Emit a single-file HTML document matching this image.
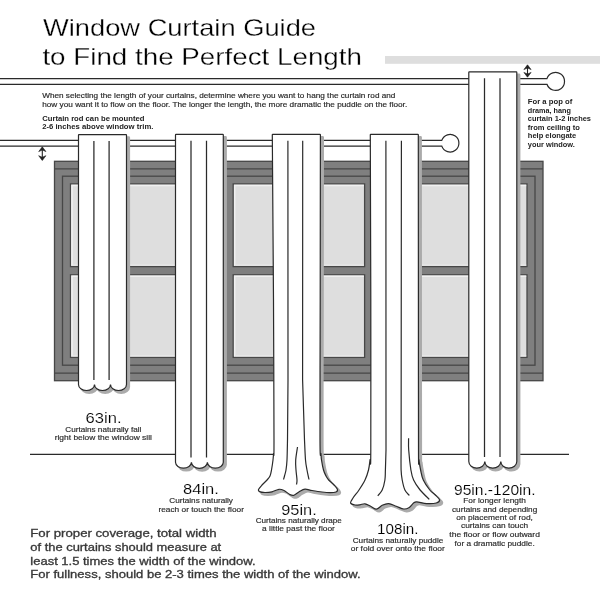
<!DOCTYPE html><html><head><meta charset="utf-8"><style>
html,body{margin:0;padding:0;background:#fff;width:600px;height:600px;overflow:hidden}
svg{display:block;will-change:transform}text{font-family:"Liberation Sans",sans-serif}
</style></head><body>
<svg width="600" height="600" viewBox="0 0 600 600">
<text x="43.0" y="35.7" font-size="23.4" font-weight="normal" fill="#000" text-anchor="start" textLength="273.0" lengthAdjust="spacingAndGlyphs" stroke="#fff" stroke-width="0.28">Window Curtain Guide</text>
<text x="42.4" y="64.7" font-size="23.4" font-weight="normal" fill="#000" text-anchor="start" textLength="319.6" lengthAdjust="spacingAndGlyphs" stroke="#fff" stroke-width="0.28">to Find the Perfect Length</text>
<rect x="385" y="56" width="215" height="7.8" fill="#dedede"/>
<path d="M0 78.6 H546.95 A9.0 9.0 0 1 1 546.98 84.3 H0" stroke="#2a2a2a" stroke-width="1.2" fill="#fff"/>
<path d="M0 140.4 H441.76 A8.8 8.8 0 1 1 441.79 146.1 H0" stroke="#2a2a2a" stroke-width="1.2" fill="#fff"/>
<text x="42.2" y="98.2" font-size="7.3" font-weight="normal" fill="#2c2c2c" text-anchor="start" textLength="353.2" lengthAdjust="spacingAndGlyphs" stroke="#2c2c2c" stroke-width="0.18">When selecting the length of your curtains, determine where you want to hang the curtain rod and</text>
<text x="42.2" y="106.7" font-size="7.3" font-weight="normal" fill="#2c2c2c" text-anchor="start" textLength="365.0" lengthAdjust="spacingAndGlyphs" stroke="#2c2c2c" stroke-width="0.18">how you want it to flow on the floor. The longer the length, the more dramatic the puddle on the floor.</text>
<text x="42.2" y="120.5" font-size="6.9" font-weight="bold" fill="#222" text-anchor="start" textLength="102.2" lengthAdjust="spacingAndGlyphs">Curtain rod can be mounted</text>
<text x="42.2" y="128.8" font-size="6.9" font-weight="bold" fill="#222" text-anchor="start" textLength="111.2" lengthAdjust="spacingAndGlyphs">2-6 inches above window trim.</text>
<path d="M42.3 147.8 V159.5" stroke="#222" stroke-width="1.1"/>
<path d="M38.699999999999996 151.60000000000002 L42.3 146.8 L45.9 151.60000000000002 L42.3 150.0 Z" fill="#222" stroke="#222" stroke-width="0.6"/>
<path d="M38.699999999999996 155.7 L42.3 160.5 L45.9 155.7 L42.3 157.3 Z" fill="#222" stroke="#222" stroke-width="0.6"/>
<path d="M527.5 65.8 V76.2" stroke="#222" stroke-width="1.1"/>
<path d="M523.9 69.6 L527.5 64.8 L531.1 69.6 L527.5 68.0 Z" fill="#222" stroke="#222" stroke-width="0.6"/>
<path d="M523.9 72.4 L527.5 77.2 L531.1 72.4 L527.5 74.0 Z" fill="#222" stroke="#222" stroke-width="0.6"/>
<rect x="54.5" y="161.3" width="488.5" height="219.4" fill="#7f7f7f" stroke="#474747" stroke-width="1.3"/>
<path d="M54.5 168.9 H543 M54.5 373.1 H543" stroke="#474747" stroke-width="1.3"/>
<rect x="62.5" y="176.2" width="472.5" height="189" fill="#7f7f7f" stroke="#474747" stroke-width="1.3"/>
<rect x="70.5" y="183.9" width="154.10" height="82.70" fill="#dedede" stroke="#474747" stroke-width="1.3"/>
<path d="M72.0 265.8 V185.4 H223.79999999999998" stroke="#f0f0f0" stroke-width="1.5" fill="none"/>
<path d="M72.9 265.1 H223.79999999999998" stroke="#e8e8e8" stroke-width="1.2" fill="none"/>
<rect x="70.5" y="274.8" width="154.10" height="82.60" fill="#dedede" stroke="#474747" stroke-width="1.3"/>
<path d="M72.0 356.59999999999997 V276.3 H223.79999999999998" stroke="#f0f0f0" stroke-width="1.5" fill="none"/>
<path d="M72.9 355.9 H223.79999999999998" stroke="#e8e8e8" stroke-width="1.2" fill="none"/>
<rect x="233.2" y="183.9" width="131.40" height="82.70" fill="#dedede" stroke="#474747" stroke-width="1.3"/>
<path d="M234.7 265.8 V185.4 H363.8" stroke="#f0f0f0" stroke-width="1.5" fill="none"/>
<path d="M235.6 265.1 H363.8" stroke="#e8e8e8" stroke-width="1.2" fill="none"/>
<rect x="233.2" y="274.8" width="131.40" height="82.60" fill="#dedede" stroke="#474747" stroke-width="1.3"/>
<path d="M234.7 356.59999999999997 V276.3 H363.8" stroke="#f0f0f0" stroke-width="1.5" fill="none"/>
<path d="M235.6 355.9 H363.8" stroke="#e8e8e8" stroke-width="1.2" fill="none"/>
<rect x="373" y="183.9" width="154.00" height="82.70" fill="#dedede" stroke="#474747" stroke-width="1.3"/>
<path d="M374.5 265.8 V185.4 H526.2" stroke="#f0f0f0" stroke-width="1.5" fill="none"/>
<path d="M375.4 265.1 H526.2" stroke="#e8e8e8" stroke-width="1.2" fill="none"/>
<rect x="373" y="274.8" width="154.00" height="82.60" fill="#dedede" stroke="#474747" stroke-width="1.3"/>
<path d="M374.5 356.59999999999997 V276.3 H526.2" stroke="#f0f0f0" stroke-width="1.5" fill="none"/>
<path d="M375.4 355.9 H526.2" stroke="#e8e8e8" stroke-width="1.2" fill="none"/>
<path d="M30 454.3 H569" stroke="#2a2a2a" stroke-width="1.2"/>
<path d="M78.5 135.1 Q78.5 134.6 79.0 134.6 H126.0 Q126.5 134.6 126.5 135.1 V384.5 A8.0 6.0 0 0 1 110.50 384.5 A8.0 6.0 0 0 1 94.50 384.5 A8.0 6.0 0 0 1 78.5 384.5 Z" transform="translate(2.7,2.5)" fill="#ababab" stroke="#ababab" stroke-width="1.8" stroke-linejoin="round"/>
<path d="M78.5 135.1 Q78.5 134.6 79.0 134.6 H126.0 Q126.5 134.6 126.5 135.1 V384.5 A8.0 6.0 0 0 1 110.50 384.5 A8.0 6.0 0 0 1 94.50 384.5 A8.0 6.0 0 0 1 78.5 384.5 Z" fill="#fff" stroke="#2a2a2a" stroke-width="1.2"/>
<path d="M93.9 140.9 V380 M109.1 140.9 V380" stroke="#2a2a2a" stroke-width="1.25"/>
<path d="M175.5 134.9 Q175.5 134.4 176.0 134.4 H222.8 Q223.3 134.4 223.3 134.9 V462.3 A7.966666666666666 6.0 0 0 1 207.37 462.3 A7.966666666666666 6.0 0 0 1 191.43 462.3 A7.966666666666666 6.0 0 0 1 175.5 462.3 Z" transform="translate(2.7,2.5)" fill="#ababab" stroke="#ababab" stroke-width="1.8" stroke-linejoin="round"/>
<path d="M175.5 134.9 Q175.5 134.4 176.0 134.4 H222.8 Q223.3 134.4 223.3 134.9 V462.3 A7.966666666666666 6.0 0 0 1 207.37 462.3 A7.966666666666666 6.0 0 0 1 191.43 462.3 A7.966666666666666 6.0 0 0 1 175.5 462.3 Z" fill="#fff" stroke="#2a2a2a" stroke-width="1.2"/>
<path d="M191.0 140.70000000000002 V457.5 M206.5 140.70000000000002 V457.5" stroke="#2a2a2a" stroke-width="1.25"/>
<path d="M468.8 72.4 Q468.8 71.9 469.3 71.9 H516.3 Q516.8 71.9 516.8 72.4 V461.6 A8.0 6.5 0 0 1 500.80 461.6 A8.0 6.5 0 0 1 484.80 461.6 A8.0 6.5 0 0 1 468.8 461.6 Z" transform="translate(2.7,2.5)" fill="#ababab" stroke="#ababab" stroke-width="1.8" stroke-linejoin="round"/>
<path d="M468.8 72.4 Q468.8 71.9 469.3 71.9 H516.3 Q516.8 71.9 516.8 72.4 V461.6 A8.0 6.5 0 0 1 500.80 461.6 A8.0 6.5 0 0 1 484.80 461.6 A8.0 6.5 0 0 1 468.8 461.6 Z" fill="#fff" stroke="#2a2a2a" stroke-width="1.2"/>
<path d="M484.5 78.2 V457.0 M500.0 78.2 V457.0" stroke="#2a2a2a" stroke-width="1.25"/>
<path d="M272.3 134.8 Q272.3 134.3 272.8 134.3 H319.9 Q320.4 134.3 320.4 134.8 L320.2 300 C320.17 323.33 319.87 414.33 320 440 C320.13 465.67 320.75 450.67 321 454 C321.25 457.33 321.08 457.33 321.5 460 C321.92 462.67 322.75 467.33 323.5 470 C324.25 472.67 325.13 474.33 326 476 C326.87 477.67 327.37 478.50 328.7 480 C330.03 481.50 332.55 483.43 334 485 C335.45 486.57 337.07 488.23 337.4 489.4 C337.73 490.57 337.23 491.47 336 492 C334.77 492.53 332.33 492.60 330 492.6 C327.67 492.60 325.00 492.35 322 492 C319.00 491.65 314.83 490.97 312 490.5 C309.17 490.03 307.08 489.03 305 489.2 C302.92 489.37 301.33 490.50 299.5 491.5 C297.67 492.50 295.58 494.68 294 495.2 C292.42 495.72 291.67 495.38 290 494.6 C288.33 493.82 285.83 491.38 284 490.5 C282.17 489.62 281.00 489.08 279 489.3 C277.00 489.52 274.33 491.27 272 491.8 C269.67 492.33 267.08 492.53 265 492.5 C262.92 492.47 260.57 492.12 259.5 491.6 C258.43 491.08 258.18 490.50 258.6 489.4 C259.02 488.30 260.60 486.57 262 485 C263.40 483.43 265.67 481.50 267 480 C268.33 478.50 269.25 477.67 270 476 C270.75 474.33 271.00 472.67 271.5 470 C272.00 467.33 272.67 462.67 273 460 C273.33 457.33 273.33 457.33 273.5 454 C273.67 450.67 274.00 465.67 274 440 C274.00 414.33 273.58 323.33 273.5 300 Z" transform="translate(2.7,2.5)" fill="#ababab" stroke="#ababab" stroke-width="1.8" stroke-linejoin="round"/>
<path d="M272.3 134.8 Q272.3 134.3 272.8 134.3 H319.9 Q320.4 134.3 320.4 134.8 L320.2 300 C320.17 323.33 319.87 414.33 320 440 C320.13 465.67 320.75 450.67 321 454 C321.25 457.33 321.08 457.33 321.5 460 C321.92 462.67 322.75 467.33 323.5 470 C324.25 472.67 325.13 474.33 326 476 C326.87 477.67 327.37 478.50 328.7 480 C330.03 481.50 332.55 483.43 334 485 C335.45 486.57 337.07 488.23 337.4 489.4 C337.73 490.57 337.23 491.47 336 492 C334.77 492.53 332.33 492.60 330 492.6 C327.67 492.60 325.00 492.35 322 492 C319.00 491.65 314.83 490.97 312 490.5 C309.17 490.03 307.08 489.03 305 489.2 C302.92 489.37 301.33 490.50 299.5 491.5 C297.67 492.50 295.58 494.68 294 495.2 C292.42 495.72 291.67 495.38 290 494.6 C288.33 493.82 285.83 491.38 284 490.5 C282.17 489.62 281.00 489.08 279 489.3 C277.00 489.52 274.33 491.27 272 491.8 C269.67 492.33 267.08 492.53 265 492.5 C262.92 492.47 260.57 492.12 259.5 491.6 C258.43 491.08 258.18 490.50 258.6 489.4 C259.02 488.30 260.60 486.57 262 485 C263.40 483.43 265.67 481.50 267 480 C268.33 478.50 269.25 477.67 270 476 C270.75 474.33 271.00 472.67 271.5 470 C272.00 467.33 272.67 462.67 273 460 C273.33 457.33 273.33 457.33 273.5 454 C273.67 450.67 274.00 465.67 274 440 C274.00 414.33 273.58 323.33 273.5 300 Z" fill="#fff" stroke="#2a2a2a" stroke-width="1.2"/>
<path d="M287.9 140.8 L288 380 L287.5 440 C287.42 443.33 287.25 455.00 287 460 C286.75 465.00 286.42 467.33 286 470 C285.58 472.67 284.92 474.42 284.5 476 C284.08 477.58 283.67 478.92 283.5 479.5 " stroke="#2a2a2a" stroke-width="1.2" fill="none"/>
<path d="M302.7 140.8 L302.6 380 L304.5 440 C304.67 443.33 305.08 455.00 305.5 460 C305.92 465.00 306.42 466.75 307 470 C307.58 473.25 308.67 477.92 309 479.5 " stroke="#2a2a2a" stroke-width="1.2" fill="none"/>
<path d="M297.5 447 C297.20 449.17 295.95 456.17 295.7 460 C295.45 463.83 295.78 466.67 296 470 C296.22 473.33 296.92 477.58 297 480 C297.08 482.42 296.58 483.75 296.5 484.5 " stroke="#2a2a2a" stroke-width="1.2" fill="none"/>
<path d="M370.3 134.8 Q370.3 134.3 370.8 134.3 H417.8 Q418.3 134.3 418.3 134.8 L418.4 300 C418.42 325.00 418.40 423.33 418.5 450 C418.60 476.67 418.65 456.67 419 460 C419.35 463.33 419.88 466.67 420.6 470 C421.32 473.33 421.77 476.67 423.3 480 C424.83 483.33 427.80 487.50 429.8 490 C431.80 492.50 433.67 493.37 435.3 495 C436.93 496.63 439.43 498.47 439.6 499.8 C439.77 501.13 438.47 502.37 436.3 503 C434.13 503.63 429.85 503.80 426.6 503.6 C423.35 503.40 418.97 501.90 416.8 501.8 C414.63 501.70 414.85 502.07 413.6 503 C412.35 503.93 410.93 506.40 409.3 507.4 C407.67 508.40 405.97 509.18 403.8 509 C401.63 508.82 398.82 507.20 396.3 506.3 C393.78 505.40 391.05 503.77 388.7 503.6 C386.35 503.43 384.23 504.37 382.2 505.3 C380.17 506.23 378.37 509.00 376.5 509.2 C374.63 509.40 372.92 507.40 371 506.5 C369.08 505.60 366.83 504.08 365 503.8 C363.17 503.52 361.67 504.60 360 504.8 C358.33 505.00 356.57 505.30 355 505 C353.43 504.70 350.93 504.17 350.6 503 C350.27 501.83 351.60 500.17 353 498 C354.40 495.83 357.00 493.00 359 490 C361.00 487.00 363.42 483.33 365 480 C366.58 476.67 367.67 473.33 368.5 470 C369.33 466.67 369.62 463.33 370 460 C370.38 456.67 370.67 476.67 370.8 450 C370.93 423.33 370.80 325.00 370.8 300 Z" transform="translate(2.7,2.5)" fill="#ababab" stroke="#ababab" stroke-width="1.8" stroke-linejoin="round"/>
<path d="M370.3 134.8 Q370.3 134.3 370.8 134.3 H417.8 Q418.3 134.3 418.3 134.8 L418.4 300 C418.42 325.00 418.40 423.33 418.5 450 C418.60 476.67 418.65 456.67 419 460 C419.35 463.33 419.88 466.67 420.6 470 C421.32 473.33 421.77 476.67 423.3 480 C424.83 483.33 427.80 487.50 429.8 490 C431.80 492.50 433.67 493.37 435.3 495 C436.93 496.63 439.43 498.47 439.6 499.8 C439.77 501.13 438.47 502.37 436.3 503 C434.13 503.63 429.85 503.80 426.6 503.6 C423.35 503.40 418.97 501.90 416.8 501.8 C414.63 501.70 414.85 502.07 413.6 503 C412.35 503.93 410.93 506.40 409.3 507.4 C407.67 508.40 405.97 509.18 403.8 509 C401.63 508.82 398.82 507.20 396.3 506.3 C393.78 505.40 391.05 503.77 388.7 503.6 C386.35 503.43 384.23 504.37 382.2 505.3 C380.17 506.23 378.37 509.00 376.5 509.2 C374.63 509.40 372.92 507.40 371 506.5 C369.08 505.60 366.83 504.08 365 503.8 C363.17 503.52 361.67 504.60 360 504.8 C358.33 505.00 356.57 505.30 355 505 C353.43 504.70 350.93 504.17 350.6 503 C350.27 501.83 351.60 500.17 353 498 C354.40 495.83 357.00 493.00 359 490 C361.00 487.00 363.42 483.33 365 480 C366.58 476.67 367.67 473.33 368.5 470 C369.33 466.67 369.62 463.33 370 460 C370.38 456.67 370.67 476.67 370.8 450 C370.93 423.33 370.80 325.00 370.8 300 Z" fill="#fff" stroke="#2a2a2a" stroke-width="1.2"/>
<path d="M385.9 140.8 L386 450 C385.90 453.33 385.58 465.00 385.4 470 C385.22 475.00 385.43 476.67 384.9 480 C384.37 483.33 383.38 487.37 382.2 490 C381.02 492.63 378.53 494.83 377.8 495.8 " stroke="#2a2a2a" stroke-width="1.2" fill="none"/>
<path d="M401.4 140.8 L401.1 450 C401.10 453.33 400.92 465.00 401.1 470 C401.28 475.00 401.57 476.67 402.2 480 C402.83 483.33 403.72 487.42 404.9 490 C406.08 492.58 408.57 494.58 409.3 495.5 " stroke="#2a2a2a" stroke-width="1.2" fill="none"/>
<path d="M408.6 438.3 C408.62 440.25 408.32 444.72 408.7 450 C409.08 455.28 410.08 465.00 410.9 470 C411.72 475.00 412.07 476.67 413.6 480 C415.13 483.33 417.48 486.78 420.1 490 C422.72 493.22 427.77 497.75 429.3 499.3 " stroke="#2a2a2a" stroke-width="1.2" fill="none"/>
<text x="103.6" y="422.8" font-size="14.6" font-weight="normal" fill="#000" text-anchor="middle" textLength="36.0" lengthAdjust="spacingAndGlyphs" stroke="#fff" stroke-width="0.15">63in.</text>
<text x="103.3" y="431.8" font-size="7.6" font-weight="normal" fill="#2c2c2c" text-anchor="middle" textLength="76.0" lengthAdjust="spacingAndGlyphs" stroke="#2c2c2c" stroke-width="0.18">Curtains naturally fall</text>
<text x="103.3" y="440.0" font-size="7.6" font-weight="normal" fill="#2c2c2c" text-anchor="middle" textLength="97.2" lengthAdjust="spacingAndGlyphs" stroke="#2c2c2c" stroke-width="0.18">right below the window sill</text>
<text x="201.0" y="494.0" font-size="14.6" font-weight="normal" fill="#000" text-anchor="middle" textLength="35.8" lengthAdjust="spacingAndGlyphs" stroke="#fff" stroke-width="0.15">84in.</text>
<text x="201.1" y="503.0" font-size="7.6" font-weight="normal" fill="#2c2c2c" text-anchor="middle" textLength="63.7" lengthAdjust="spacingAndGlyphs" stroke="#2c2c2c" stroke-width="0.18">Curtains naturally</text>
<text x="201.2" y="511.8" font-size="7.6" font-weight="normal" fill="#2c2c2c" text-anchor="middle" textLength="85.5" lengthAdjust="spacingAndGlyphs" stroke="#2c2c2c" stroke-width="0.18">reach or touch the floor</text>
<text x="299.0" y="514.6" font-size="14.6" font-weight="normal" fill="#000" text-anchor="middle" textLength="35.5" lengthAdjust="spacingAndGlyphs" stroke="#fff" stroke-width="0.15">95in.</text>
<text x="298.8" y="523.0" font-size="7.6" font-weight="normal" fill="#2c2c2c" text-anchor="middle" textLength="86.2" lengthAdjust="spacingAndGlyphs" stroke="#2c2c2c" stroke-width="0.18">Curtains naturally drape</text>
<text x="298.5" y="531.0" font-size="7.6" font-weight="normal" fill="#2c2c2c" text-anchor="middle" textLength="72.8" lengthAdjust="spacingAndGlyphs" stroke="#2c2c2c" stroke-width="0.18">a little past the floor</text>
<text x="397.8" y="534.2" font-size="14.6" font-weight="normal" fill="#000" text-anchor="middle" textLength="41.4" lengthAdjust="spacingAndGlyphs" stroke="#fff" stroke-width="0.15">108in.</text>
<text x="398.0" y="543.0" font-size="7.6" font-weight="normal" fill="#2c2c2c" text-anchor="middle" textLength="90.6" lengthAdjust="spacingAndGlyphs" stroke="#2c2c2c" stroke-width="0.18">Curtains naturally puddle</text>
<text x="397.8" y="551.0" font-size="7.6" font-weight="normal" fill="#2c2c2c" text-anchor="middle" textLength="94.2" lengthAdjust="spacingAndGlyphs" stroke="#2c2c2c" stroke-width="0.18">or fold over onto the floor</text>
<text x="494.8" y="494.6" font-size="14.6" font-weight="normal" fill="#000" text-anchor="middle" textLength="81.6" lengthAdjust="spacingAndGlyphs" stroke="#fff" stroke-width="0.15">95in.-120in.</text>
<text x="494.6" y="503.0" font-size="7.6" font-weight="normal" fill="#2c2c2c" text-anchor="middle" textLength="62.6" lengthAdjust="spacingAndGlyphs" stroke="#2c2c2c" stroke-width="0.18">For longer length</text>
<text x="494.6" y="511.6" font-size="7.6" font-weight="normal" fill="#2c2c2c" text-anchor="middle" textLength="85.2" lengthAdjust="spacingAndGlyphs" stroke="#2c2c2c" stroke-width="0.18">curtains and depending</text>
<text x="494.6" y="520.0" font-size="7.6" font-weight="normal" fill="#2c2c2c" text-anchor="middle" textLength="76.60000000000001" lengthAdjust="spacingAndGlyphs" stroke="#2c2c2c" stroke-width="0.18">on placement of rod,</text>
<text x="494.6" y="528.4" font-size="7.6" font-weight="normal" fill="#2c2c2c" text-anchor="middle" textLength="67.2" lengthAdjust="spacingAndGlyphs" stroke="#2c2c2c" stroke-width="0.18">curtains can touch</text>
<text x="494.6" y="537.0" font-size="7.6" font-weight="normal" fill="#2c2c2c" text-anchor="middle" textLength="90.60000000000001" lengthAdjust="spacingAndGlyphs" stroke="#2c2c2c" stroke-width="0.18">the floor or flow outward</text>
<text x="494.6" y="545.6" font-size="7.6" font-weight="normal" fill="#2c2c2c" text-anchor="middle" textLength="80.2" lengthAdjust="spacingAndGlyphs" stroke="#2c2c2c" stroke-width="0.18">for a dramatic puddle.</text>
<text x="527.8" y="103.9" font-size="7.0" font-weight="bold" fill="#222" text-anchor="start" textLength="44.5" lengthAdjust="spacingAndGlyphs">For a pop of</text>
<text x="527.8" y="112.6" font-size="7.0" font-weight="bold" fill="#222" text-anchor="start" textLength="43" lengthAdjust="spacingAndGlyphs">drama, hang</text>
<text x="527.8" y="121.0" font-size="7.0" font-weight="bold" fill="#222" text-anchor="start" textLength="63.2" lengthAdjust="spacingAndGlyphs">curtain 1-2 inches</text>
<text x="527.8" y="129.9" font-size="7.0" font-weight="bold" fill="#222" text-anchor="start" textLength="52" lengthAdjust="spacingAndGlyphs">from ceiling to</text>
<text x="527.8" y="138.3" font-size="7.0" font-weight="bold" fill="#222" text-anchor="start" textLength="48.5" lengthAdjust="spacingAndGlyphs">help elongate</text>
<text x="527.8" y="146.9" font-size="7.0" font-weight="bold" fill="#222" text-anchor="start" textLength="47" lengthAdjust="spacingAndGlyphs">your window.</text>
<text x="30.3" y="537.4" font-size="11.0" font-weight="normal" fill="#383838" text-anchor="start" textLength="186.2" lengthAdjust="spacingAndGlyphs" stroke="#383838" stroke-width="0.32">For proper coverage, total width</text>
<text x="30.3" y="550.8" font-size="11.0" font-weight="normal" fill="#383838" text-anchor="start" textLength="190.9" lengthAdjust="spacingAndGlyphs" stroke="#383838" stroke-width="0.32">of the curtains should measure at</text>
<text x="30.3" y="564.6" font-size="11.0" font-weight="normal" fill="#383838" text-anchor="start" textLength="225.3" lengthAdjust="spacingAndGlyphs" stroke="#383838" stroke-width="0.32">least 1.5 times the width of the window.</text>
<text x="30.3" y="577.8" font-size="11.0" font-weight="normal" fill="#383838" text-anchor="start" textLength="330.3" lengthAdjust="spacingAndGlyphs" stroke="#383838" stroke-width="0.32">For fullness, should be 2-3 times the width of the window.</text>
</svg></body></html>
